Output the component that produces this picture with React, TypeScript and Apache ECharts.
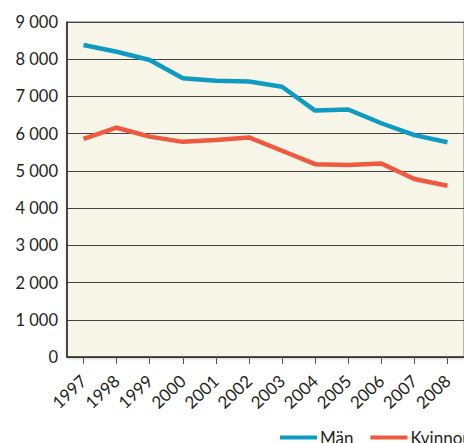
import React, { useEffect, useRef } from "react";
import * as echarts from "echarts";

const years = ["1997", "1998", "1999", "2000", "2001", "2002", "2003", "2004", "2005", "2006", "2007", "2008"];
const man = [8380, 8200, 7980, 7490, 7420, 7400, 7260, 6620, 6650, 6280, 5960, 5770];
const kvinnor = [5860, 6160, 5920, 5780, 5830, 5900, 5540, 5180, 5160, 5200, 4780, 4600];

const BLUE = "#0f9bc1";
const RED = "#ef5a3e";
const TEXT = "#231f20";
const FONT = "Lato, 'Open Sans', sans-serif";

export default function App() {
  const ref = useRef<HTMLDivElement>(null);
  useEffect(() => {
    if (!ref.current) return;
    const chart = echarts.init(ref.current, null, { renderer: "svg" });
    chart.setOption({
      animation: false,
      textStyle: { fontFamily: FONT, color: TEXT },
      legend: {
        left: 280,
        top: 429,
        width: 400,
        orient: "horizontal",
        padding: 0,
        icon: "rect",
        itemWidth: 37,
        itemHeight: 4,
        itemGap: 17,
        textStyle: { fontFamily: FONT, fontSize: 17, color: TEXT, padding: [0, 0, 0, -2] },
        data: ["Män", "Kvinnor"],
      },
      grid: {
        left: 67,
        top: 22,
        width: 403,
        height: 335,
        show: true,
        backgroundColor: "#f7f4e8",
        borderColor: "#777",
        borderWidth: 1,
        shadowColor: "rgba(0,0,0,0.25)",
        shadowBlur: 3,
        shadowOffsetY: 1,
      },
      xAxis: {
        type: "category",
        data: years,
        boundaryGap: true,
        axisLine: { show: true, lineStyle: { color: "#333", width: 1.5 } },
        axisTick: { show: true, alignWithLabel: true, length: 7, lineStyle: { color: "#555" } },
        axisLabel: {
          rotate: 43,
          margin: 21,
          interval: 0,
          fontSize: 17,
          color: TEXT,
          fontFamily: FONT,
        },
        splitLine: { show: false },
      },
      yAxis: {
        type: "value",
        min: 0,
        max: 9000,
        interval: 1000,
        axisLine: { show: true, lineStyle: { color: "#222", width: 1.5 } },
        axisTick: { show: false },
        axisLabel: {
          margin: 9,
          fontSize: 16.5,
          color: TEXT,
          fontFamily: FONT,
          formatter: (v: number) => {
            const s = String(v);
            return s.length > 3 ? s.slice(0, s.length - 3) + " " + s.slice(-3) : s;
          },
        },
        splitLine: { show: true, lineStyle: { color: "#444", width: 1.2 } },
      },
      series: [
        {
          name: "Män",
          type: "line",
          data: man,
          symbol: "none",
          color: BLUE,
          lineStyle: { color: BLUE, width: 4.5 },
        },
        {
          name: "Kvinnor",
          type: "line",
          data: kvinnor,
          symbol: "none",
          color: RED,
          lineStyle: { color: RED, width: 4.5 },
        },
      ],
    });
    return () => chart.dispose();
  }, []);
  return <div ref={ref} style={{ width: 464, height: 443, position: "absolute", left: 0, top: 0 }} />;
}
